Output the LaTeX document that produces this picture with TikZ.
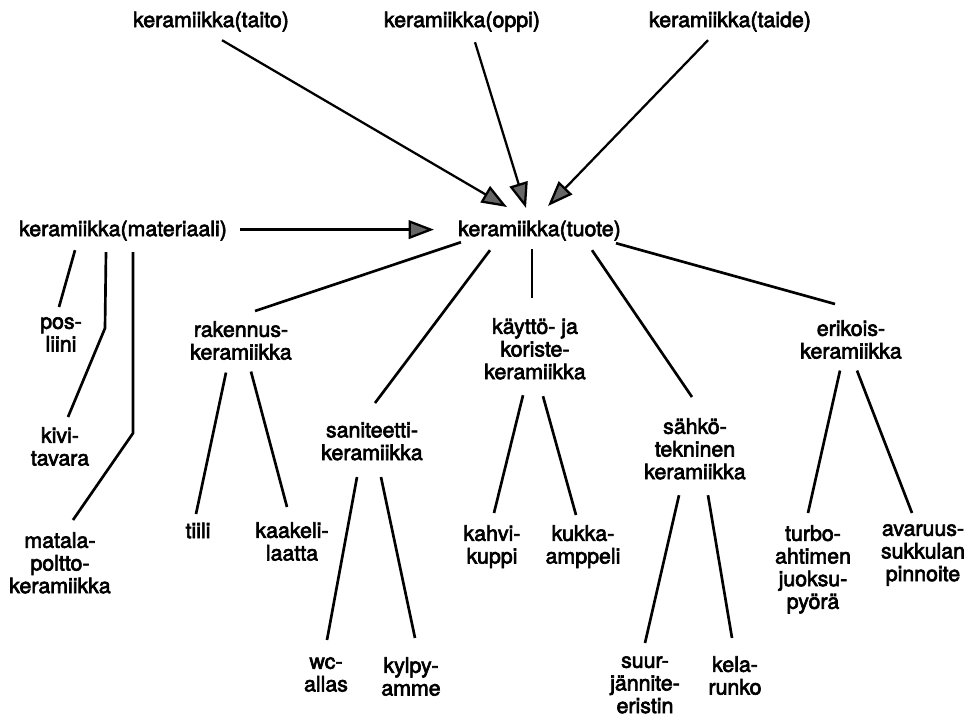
\documentclass[tikz,border=0pt]{standalone}
\usepackage{fontspec}
\setmainfont{TeX Gyre Heros}
\newfontfamily\lblfont{TeX Gyre Heros}[FakeBold=3]
\usetikzlibrary{arrows.meta,calc}

\begin{document}
\begin{tikzpicture}[x=0.75pt,y=-0.75pt,
  lbl/.style={anchor=north,align=center,inner sep=0pt,
    font=\lblfont\fontsize{16}{17}\selectfont,
    execute at begin node=\strut,execute at end node=\strut},
  arr/.style={line width=1.7pt,-{Triangle[length=19pt,width=14pt,fill=black!60]}},
  lnk/.style={line width=2pt}]
\useasboundingbox (0,0) rectangle (972,721);

% upper row
\node[lbl] (taito) at (211,11) {keramiikka(taito)};
\node[lbl] (oppi) at (462,11) {keramiikka(oppi)};
\node[lbl] (taide) at (730,11) {keramiikka(taide)};
\node[lbl] (mat) at (123,220) {keramiikka(materiaali)};
\node[lbl] (tuote) at (539.5,220) {keramiikka(tuote)};

% materiaali side
\node[lbl] (pos) at (61,317) {pos-\\liini};
\node[lbl] (kivi) at (60,427) {kivi-\\tavara};
\node[lbl] (matala) at (60,532) {matala-\\poltto-\\keramiikka};

% tuote side
\node[lbl] (rak) at (241,321) {rakennus-\\keramiikka};
\node[lbl] (tiili) at (198,522) {tiili};
\node[lbl] (kaakeli) at (292,522) {kaakeli-\\laatta};
\node[lbl] (san) at (372,422) {saniteetti-\\keramiikka};
\node[lbl] (wc) at (326,657) {wc-\\allas};
\node[lbl] (kylpy) at (411,657) {kylpy-\\amme};
\node[lbl] (kay) at (535,318) {käyttö- ja\\koriste-\\keramiikka};
\node[lbl] (kahvi) at (492,525) {kahvi-\\kuppi};
\node[lbl] (kukka) at (583,525) {kukka-\\amppeli};
\node[lbl] (sah) at (695,418) {sähkö-\\tekninen\\keramiikka};
\node[lbl] (suur) at (645,656) {suur-\\jännite-\\eristin};
\node[lbl] (kela) at (735,656) {kela-\\runko};
\node[lbl] (eri) at (851,320) {erikois-\\keramiikka};
\node[lbl] (turbo) at (813,525) {turbo-\\ahtimen\\juoksu-\\pyörä};
\node[lbl] (avar) at (923,524) {avaruus-\\sukkulan\\pinnoite};

% arrows into tuote
\draw[arr] ($(taito.south)+(11,6)$) -- ($(tuote.north)+(-32.5,-13)$);
\draw[arr] ($(oppi.south)+(13,8)$) -- ($(tuote.north)+(-13.5,-12)$);
\draw[arr] ($(taide.south)+(-22,6)$) -- ($(tuote.north)+(8.5,-14)$);
\draw[arr] ($(mat.east)+(13,-2)$) -- ($(tuote.west)+(-24,-2)$);

% branches
\draw[lnk] ($(mat.south)+(-48,7)$) -- ($(pos.north)+(-2,-10)$);
\draw[lnk] ($(mat.south)+(-17,9)$) -- ++(-1,76) -- ($(kivi.north)+(8,-10)$);
\draw[lnk] ($(mat.south)+(10,9)$) -- ++(0,181) -- ($(matala.north)+(13,-12)$);

\draw[lnk] ($(tuote.south west)+(3,-1)$) -- ($(rak.north)+(14,-10)$);
\draw[lnk] ($(tuote.south)+(-49.5,7)$) -- ($(san.north)+(3,-19)$);
\draw[lnk] ($(tuote.south)+(-7.5,6)$) -- ($(kay.north)+(-3,-20)$);
\draw[lnk] ($(tuote.south)+(52.5,7)$) -- ($(sah.north)+(-3,-21)$);
\draw[lnk] ($(tuote.south east)+(-5,0)$) -- ($(eri.north)+(-16,-16)$);

\draw[lnk] ($(rak.south)+(-15,6)$) -- ($(tiili.north)+(-2,-8)$);
\draw[lnk] ($(rak.south)+(10,5)$) -- ($(kaakeli.north)+(-5,-15)$);
\draw[lnk] ($(san.south)+(-15,10)$) -- ($(wc.north)+(1,-17)$);
\draw[lnk] ($(san.south)+(9,10)$) -- ($(kylpy.north)+(4,-19)$);
\draw[lnk] ($(kay.south)+(-12,9)$) -- ($(kahvi.north)+(2,-12)$);
\draw[lnk] ($(kay.south)+(8,10)$) -- ($(kukka.north)+(-7,-10)$);
\draw[lnk] ($(sah.south)+(-16,9)$) -- ($(suur.north)+(0,-13)$);
\draw[lnk] ($(sah.south)+(13,9)$) -- ($(kela.north)+(-3,-18)$);
\draw[lnk] ($(eri.south)+(-11,5)$) -- ($(turbo.north)+(-5,-12)$);
\draw[lnk] ($(eri.south)+(6,5)$) -- ($(avar.north)+(-11,-11)$);
\end{tikzpicture}
\end{document}
